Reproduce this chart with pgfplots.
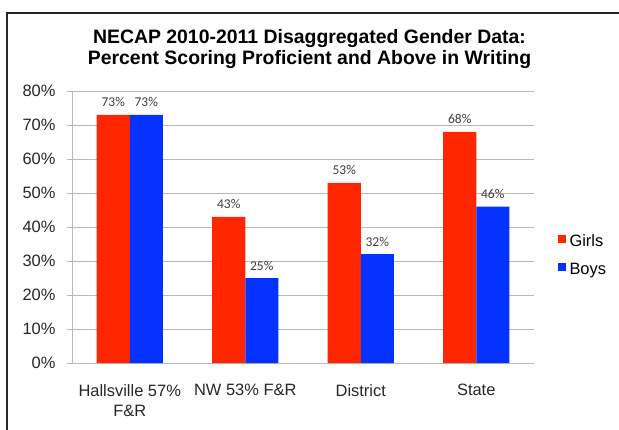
\documentclass[border=0pt]{standalone}
\usepackage{fontspec}
\setmainfont{Liberation Sans}
\newfontfamily\carlito{Carlito}
\usepackage{pgfplots}
\pgfplotsset{compat=1.18}
\definecolor{girlred}{RGB}{255,38,0}
\definecolor{boyblue}{RGB}{5,50,255}
\definecolor{gridgray}{RGB}{185,185,185}
\definecolor{labelgray}{RGB}{60,60,60}

\begin{document}
\begin{tikzpicture}
\useasboundingbox (0bp,0bp) rectangle (619bp,430bp);
% frame, cut off by the right and bottom edge
\draw[line width=2bp, black!85] (619bp,417bp) -- (7bp,417bp) -- (7bp,0bp);
\node[font=\bfseries\fontsize{19.5}{22}\selectfont, align=center] at (309.5bp,381bp)
  {NECAP 2010-2011 Disaggregated Gender Data:\\Percent Scoring Proficient and Above in Writing};

\begin{axis}[
    at={(72bp,67bp)}, anchor=south west,
    scale only axis, width=462bp, height=272bp,
    xmin=-0.5, xmax=3.5, ymin=0, ymax=80,
    ybar=0pt, bar width=33bp,
    axis x line*=bottom, axis y line*=left,
    axis line style={gridgray, line width=1bp},
    tick align=outside,
    /pgf/number format/assume math mode=true,
    ytick={0,10,...,80},
    yticklabel={\pgfmathprintnumber{\tick}\%},
    yticklabel style={font=\fontsize{16.5}{20}\selectfont, text=black!85, xshift=-8bp},
    ymajorgrids, grid style={gridgray, line width=1bp},
    major tick length=5bp,
    tick style={gridgray, line width=1bp},
    xtick={0,1,2,3},
    xticklabels={Hallsville 57\%\\F\&R, NW 53\% F\&R, District, State},
    xticklabel style={font=\fontsize{16.5}{20}\selectfont, text=black!85, align=center, yshift=-13bp},
    x tick style={draw=none},
    extra x ticks={-0.5,0.5,1.5,2.5,3.5},
    extra x tick labels={},
    extra x tick style={grid=none, tick style={draw=gridgray, line width=1bp}},
    nodes near coords={\pgfmathprintnumber{\pgfplotspointmeta}\%},
    every node near coord/.append style={font=\carlito\fontsize{13.5}{14}\selectfont,
        text=labelgray, anchor=base, inner sep=0pt, yshift=8bp},
    legend cell align=left,
    legend image code/.code={\fill[#1, draw=none] (0bp,0bp) rectangle (8bp,8bp);},
    legend style={at={(1.044,0.39)}, anchor=west, draw=none, fill=none,
        font=\fontsize{16.5}{20}\selectfont, row sep=12bp,
        nodes={inner sep=0pt, text height=12bp, text depth=4bp},
        /tikz/every odd column/.append style={column sep=4bp}},
]
\addplot[fill=girlred, draw=none] coordinates {(0,73) (1,43) (2,53) (3,68)};
\addplot[fill=boyblue, draw=none] coordinates {(0,73) (1,25) (2,32) (3,46)};
\legend{Girls, Boys}
\end{axis}
\end{tikzpicture}
\end{document}
